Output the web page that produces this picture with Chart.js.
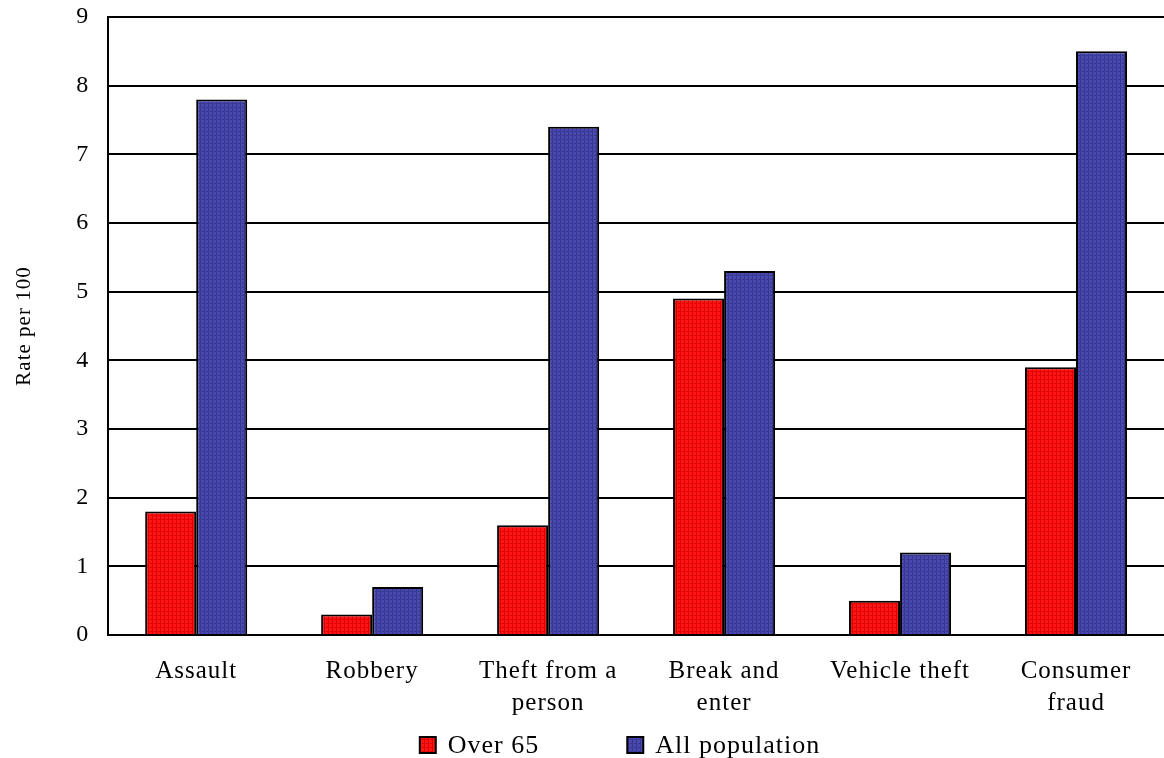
<!DOCTYPE html>
<html>
<head>
<meta charset="utf-8">
<script src="https://cdn.jsdelivr.net/npm/chart.js@4.4.1/dist/chart.umd.min.js"></script>
<style>
    html, body { margin: 0; padding: 0; background: #fff; }
    #wrap { width: 1164px; height: 758px; }
</style>
</head>
<body>
<div id="wrap"><canvas id="crimeChart"></canvas></div>
<script>
// ---------- Data ----------
const categories = [["Assault"], ["Robbery"], ["Theft from a", "person"], ["Break and", "enter"], ["Vehicle theft"], ["Consumer", "fraud"]];
const over65 = [1.8, 0.3, 1.6, 4.9, 0.5, 3.9];
const allPopulation = [7.8, 0.7, 7.4, 5.3, 1.2, 8.5];
const yTicks = [0, 1, 2, 3, 4, 5, 6, 7, 8, 9];

// ---------- Stripe patterns (like the old office chart fill) ----------
function makePattern(base, stripe) {
    const c = document.createElement("canvas");
    c.width = 4;
    c.height = 4;
    const g = c.getContext("2d");
    g.fillStyle = base;
    g.fillRect(0, 0, 4, 4);
    g.fillStyle = stripe;
    g.fillRect(0, 0, 1, 4);
    g.fillRect(2, 3, 2, 1);
    return g.createPattern(c, "repeat");
}

const ctx = document.getElementById("crimeChart").getContext("2d");
const redFill = makePattern("#ff1414", "#d80000");
const blueFill = makePattern("#4848ae", "#36368f");

const serif = "'Liberation Serif', 'Times New Roman', serif";

// the original text is set a little wide, so space letters out a bit
const wideText = {
    id: "wideText",
    beforeLayout(chart) { chart.ctx.letterSpacing = "1px"; },
    beforeDraw(chart) { chart.ctx.letterSpacing = "1px"; }
};

// ---------- Bottom legend (drawn by hand so the spacing matches) ----------
const bottomLegend = {
    id: "bottomLegend",
    afterDraw(chart) {
        const c = chart.ctx;
        const sets = chart.data.datasets;
        const box = 16, gapText = 12, gapItem = 88;
        const y = 745;
        c.save();
        c.font = "26px " + serif;
        c.letterSpacing = "1px";
        c.textBaseline = "middle";
        const widths = sets.map(ds => c.measureText(ds.label).width);
        let total = gapItem * (sets.length - 1);
        widths.forEach(w => total += box + gapText + w);
        let x = 620 - total / 2;
        sets.forEach((ds, i) => {
            c.fillStyle = ds.backgroundColor;
            c.fillRect(x, y - box / 2, box, box);
            c.lineWidth = 2;
            c.strokeStyle = "#000";
            c.strokeRect(x, y - box / 2, box, box);
            c.fillStyle = "#000";
            c.fillText(ds.label, x + box + gapText, y + 1);
            x += box + gapText + widths[i] + gapItem;
        });
        c.restore();
    }
};

new Chart(ctx, {
    type: "bar",
    data: {
        labels: categories,
        datasets: [
            {
                label: "Over 65",
                data: over65,
                backgroundColor: redFill,
                borderColor: "#000",
                borderWidth: 2
            },
            {
                label: "All population",
                data: allPopulation,
                backgroundColor: blueFill,
                borderColor: "#000",
                borderWidth: 2
            }
        ]
    },
    options: {
        responsive: true,
        maintainAspectRatio: false,
        animation: false,
        categoryPercentage: 0.58,
        barPercentage: 1,
        layout: { padding: { left: 12, right: 0, top: 0, bottom: 19 } },
        plugins: {
            tooltip: { enabled: false },
            legend: { display: false }
        },
        scales: {
            x: {
                grid: { display: false, drawTicks: false },
                border: { color: "#000", width: 2 },
                ticks: {
                    color: "#000",
                    font: { family: serif, size: 25, lineHeight: 1.28 },
                    padding: 20,
                    maxRotation: 0
                }
            },
            y: {
                min: 0,
                max: 9,
                afterBuildTicks: (axis) => {
                    axis.ticks = yTicks.map(v => ({ value: v }));
                },
                afterFit: (axis) => {
                    axis.paddingTop = 17;
                },
                grid: { color: "#000", lineWidth: 2, drawTicks: false },
                border: { color: "#000", width: 2 },
                ticks: {
                    color: "#000",
                    font: { family: serif, size: 24 },
                    padding: 19
                },
                title: {
                    display: true,
                    text: "Rate per 100",
                    color: "#000",
                    font: { family: serif, size: 21 },
                    padding: { top: 0, bottom: 20 }
                }
            }
        }
    },
    plugins: [wideText, bottomLegend]
});
</script>
</body>
</html>
